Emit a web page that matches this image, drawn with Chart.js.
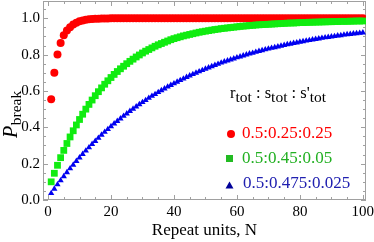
<!DOCTYPE html>
<html>
<head>
<meta charset="utf-8">
<script src="https://cdn.jsdelivr.net/npm/chart.js@4.4.0/dist/chart.umd.min.js"></script>
<style>
html, body { margin: 0; padding: 0; background: #fff; }
</style>
</head>
<body>
<canvas id="chart" width="374" height="242"></canvas>
<script>
// repeat units N
const repeatUnits = [1,2,3,4,5,6,7,8,9,10,11,12,13,14,15,16,17,18,19,20,
  21,22,23,24,25,26,27,28,29,30,31,32,33,34,35,36,37,38,39,40,
  41,42,43,44,45,46,47,48,49,50,51,52,53,54,55,56,57,58,59,60,
  61,62,63,64,65,66,67,68,69,70,71,72,73,74,75,76,77,78,79,80,
  81,82,83,84,85,86,87,88,89,90,91,92,93,94,95,96,97,98,99,100];

// r:s:s' = 0.5:0.25:0.25
const redValues = [0.555,0.700,0.800,0.864,0.907,0.932,0.951,0.966,0.976,0.983,
  0.988,0.992,0.994,0.996,0.997,0.998,0.9985,0.999,0.999,0.9995,
  1,1,1,1,1,1,1,1,1,1,1,1,1,1,1,1,1,1,1,1,
  1,1,1,1,1,1,1,1,1,1,1,1,1,1,1,1,1,1,1,1,
  1,1,1,1,1,1,1,1,1,1,1,1,1,1,1,1,1,1,1,1,
  1,1,1,1,1,1,1,1,1,1,1,1,1,1,1,1,1,1,1,1];

// 0.5:0.45:0.05
const greenValues = [0.100,0.147,0.191,0.233,0.273,0.311,0.347,0.381,0.413,0.443,
  0.472,0.500,0.526,0.550,0.574,0.596,0.617,0.637,0.656,0.674,
  0.691,0.707,0.722,0.736,0.750,0.763,0.775,0.787,0.798,0.809,
  0.819,0.828,0.837,0.846,0.854,0.861,0.868,0.875,0.882,0.888,
  0.893,0.898,0.903,0.907,0.911,0.915,0.919,0.923,0.926,0.929,
  0.932,0.935,0.938,0.940,0.943,0.945,0.947,0.949,0.951,0.953,
  0.955,0.957,0.958,0.960,0.961,0.963,0.964,0.965,0.966,0.967,
  0.968,0.969,0.970,0.971,0.972,0.973,0.974,0.974,0.975,0.976,
  0.976,0.977,0.978,0.978,0.979,0.979,0.980,0.980,0.981,0.981,
  0.982,0.982,0.983,0.983,0.983,0.984,0.984,0.985,0.985,0.985];

// 0.5:0.475:0.025
const blueValues = [0.037,0.061,0.085,0.107,0.130,0.152,0.173,0.193,0.214,0.233,
  0.252,0.271,0.289,0.307,0.324,0.341,0.358,0.374,0.389,0.405,
  0.420,0.434,0.448,0.462,0.475,0.489,0.501,0.514,0.526,0.538,
  0.549,0.561,0.572,0.582,0.593,0.603,0.613,0.623,0.632,0.641,
  0.650,0.659,0.667,0.676,0.684,0.692,0.699,0.707,0.714,0.721,
  0.728,0.735,0.742,0.748,0.755,0.761,0.767,0.772,0.778,0.784,
  0.789,0.794,0.800,0.805,0.809,0.814,0.819,0.823,0.828,0.832,
  0.836,0.840,0.844,0.848,0.852,0.856,0.859,0.863,0.866,0.870,
  0.873,0.876,0.879,0.882,0.885,0.888,0.891,0.894,0.896,0.899,
  0.901,0.904,0.906,0.909,0.911,0.913,0.915,0.917,0.919,0.921];

const seriesNames = ['0.5:0.25:0.25', '0.5:0.45:0.05', '0.5:0.475:0.025'];
const xTicks = [0, 20, 40, 60, 80, 100];
const yTicks = [0, 0.2, 0.4, 0.6, 0.8, 1.0];
const yTickLabels = ['0.0', '0.2', '0.4', '0.6', '0.8', '1.0'];

const serif = '"Liberation Serif", "DejaVu Serif", serif';
const frameColor = '#a0a0a0';

function pts(vals) {
  return repeatUnits.map((n, i) => ({ x: n, y: vals[i] }));
}

// chart.js keeps a few px above the plot for the top tick label, pull the frame up to the edge
const areaPlugin = {
  id: 'area',
  afterLayout(chart) {
    const y = chart.scales.y;
    chart.chartArea.top = 1;
    chart.chartArea.height = chart.chartArea.bottom - 1;
    y.top = 1;
    y.height = y.bottom - y.top;
    y.configure();
  }
};

// Mathematica style frame, ticks pointing inwards on all four sides
const framePlugin = {
  id: 'frame',
  beforeDatasetsDraw(chart) {
    const { ctx, chartArea: a, scales: { x, y } } = chart;
    ctx.save();
    ctx.strokeStyle = frameColor;
    ctx.lineWidth = 1;
    ctx.strokeRect(a.left + 0.5, a.top + 0.5, a.right - a.left - 1, a.bottom - a.top - 1);
    ctx.beginPath();
    for (let v = 0; v <= 100; v += 5) {
      const px = Math.round(x.getPixelForValue(v)) + 0.5;
      const len = v % 20 === 0 ? 5 : 3;
      ctx.moveTo(px, a.bottom); ctx.lineTo(px, a.bottom - len);
      ctx.moveTo(px, a.top); ctx.lineTo(px, a.top + len);
    }
    for (let k = 0; k <= 21; k++) {
      const v = k * 0.05;
      const py = Math.round(y.getPixelForValue(v)) + 0.5;
      const len = k % 4 === 0 ? 5 : 3;
      ctx.moveTo(a.left, py); ctx.lineTo(a.left + len, py);
      ctx.moveTo(a.right, py); ctx.lineTo(a.right - len, py);
    }
    ctx.stroke();
    ctx.restore();
  }
};

// y axis label P_break and the legend box
const labelPlugin = {
  id: 'labels',
  afterDatasetsDraw(chart) {
    const ctx = chart.ctx;
    ctx.save();
    // P_break
    ctx.translate(17, 138);
    ctx.rotate(-Math.PI / 2);
    ctx.fillStyle = '#000';
    ctx.textBaseline = 'alphabetic';
    ctx.textAlign = 'left';
    ctx.font = 'italic 20px ' + serif;
    ctx.fillText('P', 0, 0);
    const wP = ctx.measureText('P').width;
    ctx.font = '15.5px ' + serif;
    ctx.fillText('break', wP + 0.5, 3.5);
    ctx.restore();

    // legend header r_tot : s_tot : s'_tot
    ctx.save();
    ctx.fillStyle = '#000';
    ctx.textBaseline = 'alphabetic';
    const parts = [['r', 0], ['tot', 1], [' : ', 0], ['s', 0], ['tot', 1], [' : ', 0], ["s'", 0], ['tot', 1]];
    let hx = 230;
    parts.forEach(([t, sub]) => {
      ctx.font = (sub ? '15.5px ' : '16.5px ') + serif;
      ctx.fillText(t, hx, sub ? 102 : 98);
      hx += ctx.measureText(t).width;
    });

    // legend entries
    ctx.font = '17px ' + serif;
    const textColors = ['#ff0000', '#22b022', '#2020b0'];
    const rows = [138, 163, 188];
    seriesNames.forEach((name, i) => {
      ctx.fillStyle = textColors[i];
      ctx.fillText(name, i === 2 ? 243 : 242, rows[i]);
    });
    // markers
    ctx.fillStyle = '#ff0000';
    ctx.beginPath(); ctx.arc(231, 134, 4, 0, Math.PI * 2); ctx.fill();
    ctx.fillStyle = '#22bb22';
    ctx.fillRect(226, 155, 7, 7);
    ctx.fillStyle = '#000099';
    ctx.beginPath(); ctx.moveTo(229.5, 181.5); ctx.lineTo(233.5, 188.5); ctx.lineTo(225.5, 188.5); ctx.closePath(); ctx.fill();
    ctx.restore();
  }
};

new Chart(document.getElementById('chart'), {
  type: 'scatter',
  data: {
    datasets: [
      { label: seriesNames[0], data: pts(redValues), pointStyle: 'circle', pointRadius: 4,
        backgroundColor: '#ff0000', borderWidth: 0, order: 3 },
      { label: seriesNames[1], data: pts(greenValues), pointStyle: 'rect', pointRadius: 4.8,
        backgroundColor: '#10ec10', borderWidth: 0, order: 2 },
      { label: seriesNames[2], data: pts(blueValues), pointStyle: 'triangle', pointRadius: 3.6,
        backgroundColor: '#0000f0', borderWidth: 0, order: 1 }
    ]
  },
  options: {
    responsive: false,
    animation: false,
    devicePixelRatio: 1,
    layout: { padding: { top: 1, right: 8, left: 0, bottom: 0 } },
    plugins: { legend: { display: false }, tooltip: { enabled: false } },
    scales: {
      x: {
        type: 'linear', min: -1.6, max: 101,
        afterBuildTicks: s => { s.ticks = xTicks.map(v => ({ value: v })); },
        afterFit: s => { s.height = 42; s.paddingLeft = 0; s.paddingRight = 0; },
        grid: { display: false, drawTicks: false },
        border: { display: false },
        ticks: { color: '#000', font: { family: serif, size: 15 }, padding: 3, maxRotation: 0,
          callback: v => String(v) },
        title: { display: true, text: 'Repeat units, N', color: '#000',
          font: { family: serif, size: 17 }, padding: { top: 0, bottom: 1 } }
      },
      y: {
        type: 'linear', min: 0, max: 1.095,
        afterBuildTicks: s => { s.ticks = yTicks.map(v => ({ value: v })); },
        afterFit: s => { s.width = 43; s.paddingTop = 0; s.paddingBottom = 0; },
        grid: { display: false, drawTicks: false },
        border: { display: false },
        ticks: { color: '#000', font: { family: serif, size: 15 }, padding: 3,
          callback: (v, i) => yTickLabels[i] }
      }
    }
  },
  plugins: [areaPlugin, framePlugin, labelPlugin]
});
</script>
</body>
</html>
